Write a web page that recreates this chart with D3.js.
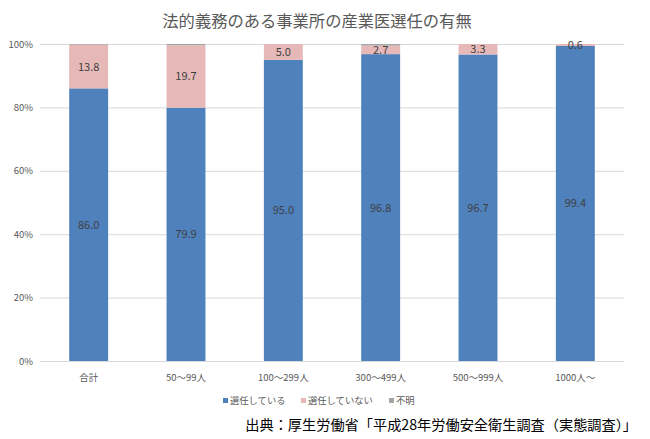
<!DOCTYPE html>
<html><head><meta charset="utf-8">
<script src="https://cdn.jsdelivr.net/npm/d3@7"></script>
<style>body{margin:0;background:#fff}svg{display:block;font-family:"Noto Sans CJK JP","Noto Sans",sans-serif}</style>
</head><body><svg id="c" width="650" height="439"></svg>
<script>
const categories = ["合計","50～99人","100～299人","300～499人","500～999人","1000人～"];
const selected = [86.0,79.9,95.0,96.8,96.7,99.4];
const notSelected = [13.8,19.7,5.0,2.7,3.3,0.6];
const unknown = [0.2,0.4,0.0,0.5,0.0,0.0];
const yTicks = [0,20,40,60,80,100];
const seriesNames = ["選任している","選任していない","不明"];
const colors = ["#4F81BD","#E6B9B8","#A5A5A5"];

const svg = d3.select("#c");
const m = {l:40,r:26,t:44,b:78};
const W=650,H=439;
const x = d3.scaleBand().domain(categories).range([m.l,W-m.r]).paddingInner(0.6).paddingOuter(0.3);
const y = d3.scaleLinear().domain([0,100]).range([H-m.b,m.t]);

svg.append("text").attr("x",317).attr("y",27).attr("text-anchor","middle")
  .attr("font-size",16.3).attr("fill","#595959").text("法的義務のある事業所の産業医選任の有無");

// grid
svg.append("g").selectAll("line").data(yTicks).join("line")
  .attr("x1",m.l).attr("x2",W-m.r).attr("y1",d=>y(d)+0.5).attr("y2",d=>y(d)+0.5)
  .attr("stroke","#D9D9D9").attr("stroke-width",1);
svg.append("g").selectAll("text").data(yTicks).join("text")
  .attr("x",33).attr("y",d=>y(d)+3.5).attr("text-anchor","end").attr("font-size",9.5)
  .attr("fill","#595959").text(d=>d+"%");

const data = categories.map((c,i)=>({cat:c,s:selected[i],n:notSelected[i],u:unknown[i]}));
const stack = d3.stack().keys(["s","n","u"])(data);
const g = svg.append("g");
stack.forEach((layer,k)=>{
  g.selectAll(null).data(layer).join("rect")
    .attr("x",d=>x(d.data.cat)).attr("width",x.bandwidth())
    .attr("y",d=>y(d[1])).attr("height",d=>Math.max(0,y(d[0])-y(d[1])))
    .attr("fill",colors[k]);
});
// labels
[0,1].forEach(k=>{
  g.selectAll(null).data(stack[k]).join("text")
    .attr("x",d=>x(d.data.cat)+x.bandwidth()/2)
    .attr("y",d=>(y(d[0])+y(d[1]))/2+4)
    .attr("text-anchor","middle").attr("font-size",11).attr("fill","#404040")
    .text(d=>(d[1]-d[0]).toFixed(1));
});
// axis baseline
svg.append("line").attr("x1",m.l).attr("x2",W-m.r).attr("y1",y(0)+0.5).attr("y2",y(0)+0.5).attr("stroke","#D9D9D9");
svg.append("g").selectAll("text").data(categories).join("text")
  .attr("x",d=>x(d)+x.bandwidth()/2).attr("y",381).attr("text-anchor","middle")
  .attr("font-size",9.5).attr("fill","#595959").text(d=>d);

// legend
const lx=[223,301,389];
const lg = svg.append("g");
seriesNames.forEach((n,i)=>{
  lg.append("rect").attr("x",lx[i]).attr("y",398).attr("width",5).attr("height",5).attr("fill",colors[i]);
  lg.append("text").attr("x",lx[i]+7).attr("y",404).attr("font-size",9.3).attr("fill","#595959").text(n);
});
svg.append("text").attr("x",637).attr("y",430).attr("text-anchor","end").attr("font-size",14.2)
  .attr("fill","#000").text("出典：厚生労働省「平成28年労働安全衛生調査（実態調査）」");
</script></body></html>
